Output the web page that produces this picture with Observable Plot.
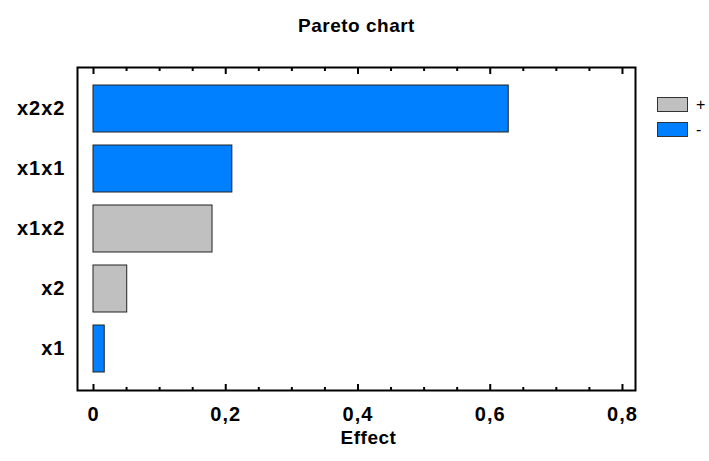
<!DOCTYPE html>
<html><head><meta charset="utf-8">
<script src="https://cdn.jsdelivr.net/npm/d3@7"></script>
<script src="https://cdn.jsdelivr.net/npm/@observablehq/plot@0.6"></script>
<style>
body{margin:0;background:#fff;}
#wrap{position:relative;width:709px;height:461px;font-family:Arial,"Liberation Sans",sans-serif;}
.pareto g[aria-label="x-axis tick label"] text,.pareto g[aria-label="y-axis tick label"] text{letter-spacing:1px;}
.pareto g[aria-label="text"] text{letter-spacing:0.5px;}
.lg{position:absolute;left:657px;width:29px;height:13px;border:1px solid #333;}
.lt{position:absolute;left:696px;font:16px Arial,"Liberation Sans",sans-serif;line-height:16px;}
</style></head><body><div id="wrap"></div>
<script>
const factors = ["x2x2","x1x1","x1x2","x2","x1"];
const effects = [0.628,0.21,0.18,0.051,0.017];
const signs = ["-","-","+","+","-"];
const majorTicks = [0,0.2,0.4,0.6,0.8];
const tickLabels = ["0","0,2","0,4","0,6","0,8"];
const minorTicks = [0.05,0.1,0.15,0.25,0.3,0.35,0.45,0.5,0.55,0.65,0.7,0.75];
const legendKeys = ["+","-"];
const legendColors = ["#c0c0c0","#0080ff"];

const data = factors.map((f,i)=>({factor:f, effect:effects[i], sign:signs[i]}));
const bold = {fontSize:20, fontWeight:"bold", fontFamily:"Arial, Liberation Sans, sans-serif"};

const chart = Plot.plot({
  width:709, height:461,
  marginLeft:77, marginRight:74, marginTop:67, marginBottom:71,
  className:"pareto",
  style:{fontFamily:"Arial, Liberation Sans, sans-serif", color:"#000", background:"#fff"},
  x:{domain:[-0.0242,0.8197]},
  y:{domain:factors, paddingInner:0.21, paddingOuter:0.26},
  color:{domain:legendKeys, range:legendColors},
  marks:[
    Plot.barX(data,{x:"effect", y:"factor", fill:"sign", stroke:"#222", strokeWidth:1}),
    Plot.axisX({anchor:"bottom", ticks:majorTicks, tickSize:-6, tickFormat:()=>"", label:null, strokeWidth:2}),
    Plot.axisX({anchor:"top", ticks:majorTicks, tickSize:-6, tickFormat:()=>"", label:null, strokeWidth:2}),
    Plot.axisX({anchor:"bottom", ticks:minorTicks, tickSize:-3, tickFormat:()=>"", label:null, strokeWidth:2}),
    Plot.axisX({anchor:"top", ticks:minorTicks, tickSize:-3, tickFormat:()=>"", label:null, strokeWidth:2}),
    Plot.axisX({anchor:"bottom", ticks:majorTicks, tickSize:0, tickPadding:16, tickFormat:d=>tickLabels[majorTicks.indexOf(d)], label:null, ...bold}),
    Plot.axisY({tickSize:0, tickPadding:12, label:null, ...bold}),
    Plot.frame({stroke:"#000", strokeWidth:2}),
    Plot.text(["Effect"],{text:d=>d, frameAnchor:"bottom", lineAnchor:"middle", dy:47, dx:12, fontSize:19, fontWeight:"bold"}),
    Plot.text(["Pareto chart"],{text:d=>d, frameAnchor:"top", lineAnchor:"middle", dy:-42, fontSize:19, fontWeight:"bold"})
  ]
});
const wrap = document.getElementById("wrap");
wrap.appendChild(chart);
const tops = [97,122];
legendKeys.forEach((k,i)=>{
  const s = document.createElement("div");
  s.className = "lg"; s.style.top = tops[i]+"px"; s.style.background = legendColors[i];
  wrap.appendChild(s);
  const t = document.createElement("div");
  t.className = "lt"; t.style.top = tops[i]+"px"; t.textContent = k;
  wrap.appendChild(t);
});
</script></body></html>
